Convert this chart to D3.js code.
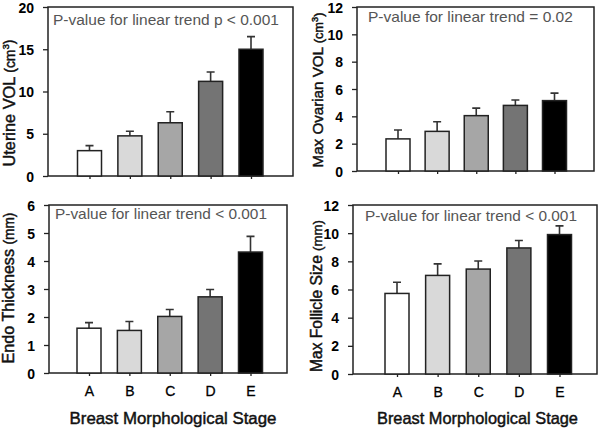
<!DOCTYPE html>
<html>
<head>
<meta charset="utf-8">
<script src="https://cdn.jsdelivr.net/npm/d3@7"></script>
<style>
  body { margin: 0; background: #fff; }
  text { font-family: "Liberation Sans", Arial, sans-serif; }
</style>
</head>
<body>
<div id="chart"></div>
<script>
var width = 600, height = 429;

var stages = ['A', 'B', 'C', 'D', 'E'];
var barColors = ['#ffffff', '#d9d9d9', '#a6a6a6', '#747474', '#000000'];

// means and upper error limits
var uterineVol = [3.0, 4.75, 6.3, 11.2, 15.0];
var uterineErr = [3.6, 5.3, 7.6, 12.3, 16.5];
var ovarianVol = [2.35, 2.9, 4.05, 4.8, 5.15];
var ovarianErr = [3.0, 3.6, 4.6, 5.2, 5.7];
var endoThick = [1.6, 1.52, 2.02, 2.72, 4.32];
var endoErr = [1.8, 1.84, 2.27, 2.98, 4.88];
var follicle = [5.72, 7.0, 7.45, 8.95, 9.9];
var follicleErr = [6.52, 7.82, 8.02, 9.48, 10.52];

var uterineTicks = [0, 5, 10, 15, 20];
var ovarianTicks = [0, 2, 4, 6, 8, 10, 12];
var endoTicks = [0, 1, 2, 3, 4, 5, 6];
var follicleTicks = [0, 2, 4, 6, 8, 10, 12];

var svg = d3.select('#chart').append('svg')
    .attr('width', width)
    .attr('height', height);

// shrink/grow font so the text spans about the given width
function fitText(sel, target) {
  var fs = +sel.attr('font-size');
  var w = sel.node().getComputedTextLength();
  if (w > 0) sel.attr('font-size', (fs * target / w).toFixed(2));
}

var panels = [
  { box: [48, 293, 7, 176], xr: [89.5, 251], vals: uterineVol, errs: uterineErr, ticks: uterineTicks,
    label: 'Uterine VOL ', unit: '(cm', sup: '3', labelX: 14.5, labelY: 103, labelW: 127,
    ptext: 'P-value for linear trend p < 0.001', px: 53, py: 25, pw: 226, xlab: false },
  { box: [357, 594, 7, 171], xr: [398, 554.5], vals: ovarianVol, errs: ovarianErr, ticks: ovarianTicks,
    label: 'Max Ovarian VOL ', unit: '(cm', sup: '3', labelX: 323, labelY: 90, labelW: 155,
    ptext: 'P-value for linear trend = 0.02', px: 368, py: 22, pw: 205, xlab: false },
  { box: [49, 287, 205, 373], xr: [89, 250.5], vals: endoThick, errs: endoErr, ticks: endoTicks,
    label: 'Endo Thickness ', unit: '(mm)', sup: null, labelX: 13.5, labelY: 288, labelW: 151,
    ptext: 'P-value for linear trend < 0.001', px: 55, py: 219, pw: 212, xlab: true, bx: 173, bw: 207 },
  { box: [353, 597, 205, 374], xr: [397, 559.5], vals: follicle, errs: follicleErr, ticks: follicleTicks,
    label: 'Max Follicle Size ', unit: '(mm)', sup: null, labelX: 322, labelY: 296, labelW: 152,
    ptext: 'P-value for linear trend < 0.001', px: 365, py: 221, pw: 212, xlab: true, bx: 477.5, bw: 201 }
];

panels.forEach(function(p) {
  var l = p.box[0], r = p.box[1], t = p.box[2], b = p.box[3];
  var ymax = d3.max(p.ticks);
  var y = d3.scaleLinear().domain([0, ymax]).range([b, t]);
  var x = d3.scalePoint().domain(stages).range(p.xr);
  var bw = 24;

  var g = svg.append('g');

  // frame
  g.append('rect')
    .attr('x', l).attr('y', t)
    .attr('width', r - l).attr('height', b - t)
    .attr('fill', 'none').attr('stroke', '#222').attr('stroke-width', 1.5);

  // error bars (upper only)
  g.selectAll('.err')
    .data(stages)
    .enter().append('path')
    .attr('d', function(d, i) {
      var cx = x(d);
      return 'M' + cx + ',' + y(p.vals[i]) + 'V' + y(p.errs[i]) + 'M' + (cx - 4) + ',' + y(p.errs[i]) + 'H' + (cx + 4);
    })
    .attr('stroke', '#333').attr('stroke-width', 1.6).attr('fill', 'none');

  // bars
  g.selectAll('.bar')
    .data(stages)
    .enter().append('rect')
    .attr('x', function(d) { return x(d) - bw / 2; })
    .attr('y', function(d, i) { return y(p.vals[i]); })
    .attr('width', bw)
    .attr('height', function(d, i) { return b - y(p.vals[i]); })
    .attr('fill', function(d, i) { return barColors[i]; })
    .attr('stroke', '#222').attr('stroke-width', 1.5);

  // y axis
  var ya = g.append('g')
    .attr('transform', 'translate(' + l + ',0)')
    .call(d3.axisLeft(y).tickValues(p.ticks).tickSize(5).tickPadding(9).tickFormat(d3.format('d')));
  ya.select('.domain').remove();
  ya.selectAll('line').attr('stroke', '#222').attr('stroke-width', 1.3);
  ya.selectAll('text').attr('font-size', 14).attr('fill', '#000').style('font-weight', 'bold').attr('dy', '0.36em');

  // x axis ticks
  var xa = g.append('g')
    .attr('transform', 'translate(0,' + b + ')')
    .call(d3.axisBottom(x).tickSize(3).tickPadding(10));
  xa.select('.domain').remove();
  xa.selectAll('line').attr('stroke', '#222').attr('stroke-width', 1.3);
  xa.selectAll('text')
    .attr('font-size', 14).attr('fill', '#000')
    .attr('stroke', '#000').attr('stroke-width', 0.3)
    .style('display', p.xlab ? null : 'none');

  if (p.xlab) {
    var bt = g.append('text')
      .attr('x', p.bx)
      .attr('y', 424)
      .attr('text-anchor', 'middle')
      .attr('font-size', 14)
      .attr('fill', '#111')
      .attr('stroke', '#111').attr('stroke-width', 0.45)
      .text('Breast Morphological Stage');
    fitText(bt, p.bw);
  }

  // y label, units a bit smaller as in the original
  var yl = g.append('text')
    .attr('transform', 'translate(' + p.labelX + ',' + p.labelY + ') rotate(-90)')
    .attr('text-anchor', 'middle')
    .attr('font-size', 14)
    .attr('fill', '#111')
    .attr('stroke', '#111').attr('stroke-width', 0.45);
  yl.append('tspan').text(p.label);
  yl.append('tspan').attr('font-size', '0.85em').text(p.unit);
  if (p.sup) {
    yl.append('tspan').attr('font-size', '0.6em').attr('dy', '-0.6em').text(p.sup);
    yl.append('tspan').attr('font-size', '0.85em').attr('dy', '0.4em').text(')');
  }
  fitText(yl, p.labelW);

  // p-value note
  var pt = g.append('text')
    .attr('x', p.px).attr('y', p.py)
    .attr('font-size', 15)
    .attr('fill', '#555')
    .text(p.ptext);
  fitText(pt, p.pw);
});
</script>
</body>
</html>
